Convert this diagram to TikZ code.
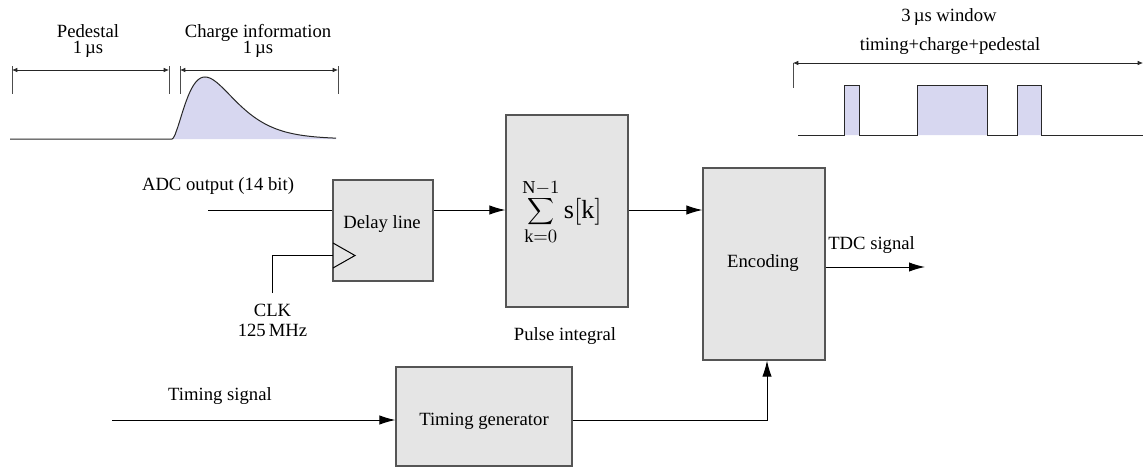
\documentclass[tikz,border=0pt]{standalone}
\usepackage{fontspec}
\setmainfont{Liberation Serif}
\usetikzlibrary{arrows.meta}

\definecolor{boxfill}{RGB}{229,229,229}
\definecolor{boxedge}{RGB}{85,85,85}
\definecolor{pulsefill}{RGB}{215,215,240}
\definecolor{wave}{RGB}{40,40,40}

\tikzset{
  block/.style={draw=boxedge, fill=boxfill, line width=0.8pt, inner sep=0pt},
  sig/.style={line width=0.75pt, draw=black},
  arr/.style={sig, -{Latex[length=12pt,width=7pt]}},
  dim/.style={line width=0.6pt, draw=black!85, {Latex[length=4pt,width=3.5pt]}-{Latex[length=4pt,width=3.5pt]}},
  tick/.style={line width=0.6pt, draw=black!70},
  wavef/.style={line width=0.75pt, draw=wave},
  lbl/.style={inner sep=0pt, anchor=base},
}

\begin{document}
\begin{tikzpicture}[x=0.75pt, y=-0.75pt, font=\fontsize{14}{16}\selectfont]
\useasboundingbox (0,0) rectangle (1145,468);

% ---------- pulse shape: pedestal and charge window ----------
\node[lbl] (pedA) at (88,37) {Pedestal};
\node[lbl] (pedB) at (88,53) {1\,µs};
\node[lbl] (chgA) at (258,37) {Charge information};
\node[lbl] (chgB) at (258,53) {1\,µs};

\coordinate (p0) at (12,70);  \coordinate (p1) at (169,70);
\coordinate (c0) at (180,70); \coordinate (c1) at (338,70);
\foreach \c in {p0,p1,c0,c1} \draw[tick] ([yshift=3pt]\c) -- ([yshift=-18pt]\c);
\draw[dim] (p0) -- (p1);
\draw[dim] (c0) -- (c1);

\fill[pulsefill] (172,139) -- plot[domain=0.01:164, samples=150]
  ({172+\x},{139-62*(\x/33)^1.8*exp(1.8*(1-\x/33))}) -- (336,139) -- cycle;
\draw[wavef] (10,139) -- (172,139) -- plot[domain=0.01:164, samples=150]
  ({172+\x},{139-62*(\x/33)^1.8*exp(1.8*(1-\x/33))});

% ---------- encoded output: 3 us window ----------
\node[lbl] (winA) at (949,21) {3\,µs window};
\node[lbl] (winB) at (950,50) {timing+charge+pedestal};
\coordinate (w0) at (793,63); \coordinate (w1) at (1143,63);
\draw[tick] (w0) -- ([yshift=-19pt]w0);
\draw[dim] (w0) -- (w1);
\fill[pulsefill] (844,85) rectangle (859,135)
                 (917,85) rectangle (987,135)
                 (1017,85) rectangle (1041,135);
\draw[wavef] (798,135) -- (844,135) -- (844,85) -- (859,85) -- (859,135)
  -- (917,135) -- (917,85) -- (987,85) -- (987,135)
  -- (1017,135) -- (1017,85) -- (1041,85) -- (1041,135) -- (1143,135);

% ---------- processing blocks ----------
\node[block, minimum width=75pt, minimum height=75.75pt] (delay) at (383,230.5) {};
\node[lbl] (delaytxt) at (382,228) {Delay line};
\node[block, minimum width=91.5pt, minimum height=144pt] (sum) at (567,211) {};
\node[scale=1.4] (sumtxt) at (562,212)
  {$\displaystyle\sum_{\mathrm{k}=0}^{\mathrm{N}-1} \mathrm{s}[\mathrm{k}]$};
\node[lbl] (sumlbl) at (565,340) {Pulse integral};
\node[block, minimum width=91.5pt, minimum height=144pt] (enc) at (764,264) {};
\node[lbl] (enctxt) at (763,267) {Encoding};
\node[block, minimum width=132pt, minimum height=74.25pt] (tgen) at (484,416.5) {};
\node[lbl] (tgentxt) at (484,425) {Timing generator};

% ---------- inputs and outputs ----------
\coordinate (adcin) at (208,210);
\node[lbl] (adclbl) at (218,190) {ADC output (14 bit)};
\draw[sig] (adcin) -- (delay.west |- adcin);
\draw[arr] (delay.east |- adcin) -- (sum.west |- adcin);
\draw[arr] (sum.east |- adcin) -- (enc.west |- adcin);

% clock input with edge-trigger mark
\coordinate (clkpin) at (333,255.5);
\coordinate (clkin) at (272.5,293);
\draw[sig] (333,243) -- (355,255.5) -- (333,268);
\draw[sig] (clkin) |- (clkpin);
\node[lbl] (clklbl) at (272.5,316) {CLK};
\node[lbl] (clkf) at (272.5,336) {125\,MHz};

% TDC output
\coordinate (tdc) at (925,267);
\draw[arr] (enc.east |- tdc) -- (tdc);
\node[lbl, anchor=base west] (tdclbl) at (828,249) {TDC signal};

% timing path
\coordinate (tin) at (112,420);
\node[lbl] (tinlbl) at (220,400) {Timing signal};
\draw[arr] (tin) -- (tgen.west |- tin);
\draw[arr] (tgen.east |- tin) -| ([xshift=2.25pt]enc.south);
\end{tikzpicture}
\end{document}
